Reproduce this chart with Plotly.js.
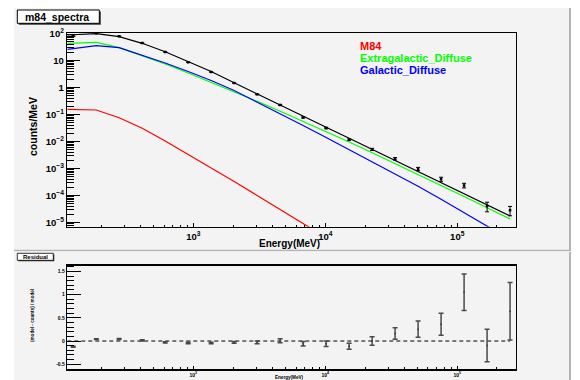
<!DOCTYPE html>
<html><head><meta charset="utf-8">
<script src="https://cdn.plot.ly/plotly-3.0.1.min.js"></script>
<style>html,body{margin:0;padding:0;background:#fff;} #chart{width:580px;height:380px;}</style>
</head><body><div id="chart"></div>
<script>
// ---- data ----
const energy = [123, 184, 274, 410, 612, 914, 1365, 2039, 3046, 4549, 6794, 10150, 15160, 22640, 33810, 50500, 75430, 112700, 168300, 251300];
const counts = [81.6, 104.3, 80.7, 44.8, 20.9, 8.79, 3.81, 1.487, 0.567, 0.2306, 0.0792, 0.0321, 0.01186, 0.00519, 0.002336, 9.81e-4, 4.12e-4, 2.41e-4, 4.12e-5, 2.91e-5];
const countsErr = [0.93, 0.8, 0.77, 0.53, 0.30, 0.147, 0.072, 0.031, 0.0176, 0.00985, 0.00396, 0.00205, 8.7e-4, 4.83e-4, 2.53e-4, 1.38e-4, 7.18e-5, 4.64e-5, 1.59e-5, 1.1e-5];

const modelEnergy = [111, 184, 274, 410, 612, 914, 1365, 2039, 3046, 4549, 6794, 10150, 15160, 22640, 33810, 50500, 75430, 112700, 168300, 251300];
const modelTotal = [89.5, 100, 77.4, 44.1, 21.5, 9.18, 3.98, 1.53, 0.585, 0.229, 0.0843, 0.0341, 0.0134, 0.00519, 0.00201, 7.82e-4, 3.03e-4, 1.175e-4, 4.56e-5, 1.77e-5];
const m84 = [0.1585, 0.1493, 0.0774, 0.03135, 0.01062, 0.003415, 0.00108, 3.356e-4, 1.017e-4, 3.11e-5, 9.26e-6, 2.81e-6];
const extragalactic = [44.1, 48.0, 30.3, 15.58, 7.55, 3.50, 1.599, 0.711, 0.311, 0.1348, 0.0570, 0.02386, 0.00975, 0.00388, 0.001545, 6.10e-4, 2.386e-4, 9.34e-5, 3.594e-5, 1.371e-5];
const galactic = [26.4, 35.9, 30.3, 16.26, 8.22, 3.98, 1.848, 0.788, 0.2954, 0.1108, 0.0398, 0.0143, 0.00514, 0.001848, 6.47e-4, 2.229e-4, 7.36e-5, 2.386e-5, 7.55e-6, 2.386e-6];

const residual = [-0.123, 0.043, 0.043, 0.015, -0.028, -0.043, -0.043, -0.028, -0.03, 0.007, -0.06, -0.06, -0.115, 0.0, 0.162, 0.255, 0.359, 1.05, -0.097, 0.643];
const residualErr = [0.01, 0.008, 0.01, 0.012, 0.014, 0.016, 0.018, 0.02, 0.03, 0.043, 0.047, 0.06, 0.065, 0.093, 0.126, 0.176, 0.237, 0.395, 0.348, 0.62];

const xTickVals = [1e3, 1e4, 1e5];
const xTickText = ['10<sup>3</sup>', '10<sup>4</sup>', '10<sup>5</sup>'];
const yTickVals = [1e-5, 1e-4, 1e-3, 1e-2, 1e-1, 1, 10, 100];
const yTickText = ['10<sup>\u22125</sup>', '10<sup>\u22124</sup>', '10<sup>\u22123</sup>', '10<sup>\u22122</sup>', '10<sup>\u22121</sup>', '1', '10', '10<sup>2</sup>'];
const rTickVals = [-0.5, 0, 0.5, 1, 1.5];
const rTickText = ['-0.5', '0', '0.5', '1', '1.5'];
const seriesNames = ['M84', 'Extragalactic_Diffuse', 'Galactic_Diffuse'];

// ---- layout helpers ----
const FONT = 'Liberation Sans, Arial, Helvetica, sans-serif';
const W = 580, H = 380;
const px = v => v / W, py = v => 1 - v / H;
const xRangeLog = [2.045, 5.443];

function logMinors(d0, d1) {
  const out = [];
  for (let d = d0; d <= d1; d++) for (let m = 2; m <= 9; m++) out.push(m * Math.pow(10, d));
  return out;
}

const traces = [
  {x: modelEnergy, y: m84, mode: 'lines', line: {color: '#ff0000', width: 1.2}, xaxis: 'x', yaxis: 'y'},
  {x: modelEnergy, y: extragalactic, mode: 'lines', line: {color: '#00ff00', width: 1.2}, xaxis: 'x', yaxis: 'y'},
  {x: modelEnergy, y: galactic, mode: 'lines', line: {color: '#0000ff', width: 1.2}, xaxis: 'x', yaxis: 'y'},
  {x: modelEnergy, y: modelTotal, mode: 'lines', line: {color: '#000000', width: 1.2}, xaxis: 'x', yaxis: 'y'},
  {x: energy, y: counts, mode: 'markers', marker: {symbol: 'square', size: 2.5, color: '#000'},
   error_y: {type: 'data', array: countsErr, visible: true, color: '#000', thickness: 1, width: 2}, xaxis: 'x', yaxis: 'y'},
  {x: [Math.pow(10, xRangeLog[0]), energy[energy.length - 1]], y: [0, 0], mode: 'lines',
   line: {color: '#000', width: 1, dash: '4px,3px'}, xaxis: 'x2', yaxis: 'y2'},
  {x: energy, y: residual, mode: 'markers', marker: {size: 2, color: '#444'},
   error_y: {type: 'data', array: residualErr, visible: true, color: '#4a4a4a', thickness: 1.5, width: 2.5}, xaxis: 'x2', yaxis: 'y2'}
];

const axisCommon = {
  showline: true, linecolor: '#000', linewidth: 1.5, mirror: true, showgrid: false, zeroline: false,
  ticks: 'inside', tickcolor: '#000', tickwidth: 1, tickmode: 'array'
};

const layout = {
  width: W, height: H, margin: {l: 0, r: 0, t: 0, b: 0},
  paper_bgcolor: '#ffffff', plot_bgcolor: '#f3f3f3', showlegend: false,
  font: {family: FONT, color: '#000'},
  xaxis: Object.assign({}, axisCommon, {
    type: 'log', range: xRangeLog, domain: [px(67.3), px(515.7)], anchor: 'y',
    tickvals: xTickVals, ticktext: xTickText, ticklen: 4,
    tickfont: {family: FONT, size: 9.5, weight: 'bold'},
    minor: {tickvals: logMinors(2, 5), ticks: 'inside', ticklen: 2, tickcolor: '#000', tickwidth: 1, showgrid: false}
  }),
  yaxis: Object.assign({}, axisCommon, {
    type: 'log', range: [-5.148, 2.026], domain: [py(226.7), py(33)], anchor: 'x',
    tickvals: yTickVals, ticktext: yTickText, ticklen: 13,
    tickfont: {family: FONT, size: 9.5, weight: 'bold'},
    minor: {tickvals: logMinors(-6, 2), ticks: 'inside', ticklen: 7, tickcolor: '#000', tickwidth: 1, showgrid: false}
  }),
  xaxis2: Object.assign({}, axisCommon, {
    type: 'log', range: xRangeLog, domain: [px(67.3), px(515.7)], anchor: 'y2',
    tickvals: xTickVals, ticktext: xTickText, ticklen: 3,
    tickfont: {family: FONT, size: 5, weight: 'bold'},
    minor: {tickvals: logMinors(2, 5), ticks: 'inside', ticklen: 2, tickcolor: '#000', tickwidth: 1, showgrid: false}
  }),
  yaxis2: Object.assign({}, axisCommon, {
    range: [-0.603, 1.623], domain: [py(369), py(265.7)], anchor: 'x2',
    tickvals: rTickVals, ticktext: rTickText, ticklen: 14,
    tickfont: {family: FONT, size: 5, weight: 'bold'},
    minor: {dtick: 0.1, tick0: 0, ticks: 'inside', ticklen: 7, tickcolor: '#000', tickwidth: 1, showgrid: false}
  }),
  shapes: [
    // pads
    {type: 'rect', xref: 'paper', yref: 'paper', x0: px(14), x1: px(569), y0: py(250), y1: py(8), fillcolor: '#f3f3f3', line: {width: 0}, layer: 'below'},
    {type: 'rect', xref: 'paper', yref: 'paper', x0: px(14), x1: px(569), y0: py(380), y1: py(252), fillcolor: '#f3f3f3', line: {width: 0}, layer: 'below'},
    {type: 'line', xref: 'paper', yref: 'paper', x0: px(570), x1: px(570), y0: py(250), y1: py(8), line: {color: '#b4b4b4', width: 2}, layer: 'below'},
    {type: 'line', xref: 'paper', yref: 'paper', x0: px(14), x1: px(571), y0: py(250.5), y1: py(250.5), line: {color: '#b4b4b4', width: 1.5}, layer: 'below'},
    {type: 'line', xref: 'paper', yref: 'paper', x0: px(570), x1: px(570), y0: py(380), y1: py(252), line: {color: '#b4b4b4', width: 2}, layer: 'below'},
    // title boxes (shadow + box)
    {type: 'rect', xref: 'paper', yref: 'paper', x0: px(18.8), x1: px(100.8), y0: py(24.8), y1: py(11.5), fillcolor: '#333', line: {width: 0}},
    {type: 'rect', xref: 'paper', yref: 'paper', x0: px(17.3), x1: px(99.3), y0: py(23.3), y1: py(10), fillcolor: '#ffffff', line: {color: '#000', width: 1}},
    {type: 'rect', xref: 'paper', yref: 'paper', x0: px(18.3), x1: px(54.3), y0: py(261.3), y1: py(254.3), fillcolor: '#333', line: {width: 0}},
    {type: 'rect', xref: 'paper', yref: 'paper', x0: px(17.3), x1: px(53.3), y0: py(260.3), y1: py(253.3), fillcolor: '#ffffff', line: {color: '#000', width: 0.8}}
  ],
  annotations: [
    {text: 'm84_spectra', xref: 'paper', yref: 'paper', x: px(57), y: py(16.6), xanchor: 'center', yanchor: 'middle', showarrow: false, font: {size: 10.5, weight: 'bold'}},
    {text: 'Residual', xref: 'paper', yref: 'paper', x: px(35.5), y: py(256.8), xanchor: 'center', yanchor: 'middle', showarrow: false, font: {size: 6, weight: 'bold'}},
    {text: seriesNames[0], xref: 'paper', yref: 'paper', x: px(358), y: py(45.7), xanchor: 'left', yanchor: 'middle', showarrow: false, font: {size: 11, weight: 'bold', color: '#ff0000'}},
    {text: seriesNames[1], xref: 'paper', yref: 'paper', x: px(358), y: py(58.2), xanchor: 'left', yanchor: 'middle', showarrow: false, font: {size: 11, weight: 'bold', color: '#00ff00'}},
    {text: seriesNames[2], xref: 'paper', yref: 'paper', x: px(358), y: py(70.3), xanchor: 'left', yanchor: 'middle', showarrow: false, font: {size: 11, weight: 'bold', color: '#0000ff'}},
    {text: 'counts/MeV', xref: 'paper', yref: 'paper', x: px(33), y: py(127), xanchor: 'center', yanchor: 'middle', textangle: -90, showarrow: false, font: {size: 10.5, weight: 'bold'}},
    {text: 'Energy(MeV)', xref: 'paper', yref: 'paper', x: px(289), y: py(243), xanchor: 'center', yanchor: 'middle', showarrow: false, font: {size: 10, weight: 'bold'}},
    {text: '(model - counts) / model', xref: 'paper', yref: 'paper', x: px(32), y: py(316), xanchor: 'center', yanchor: 'middle', textangle: -90, showarrow: false, font: {size: 4.6, weight: 'bold'}},
    {text: 'Energy(MeV)', xref: 'paper', yref: 'paper', x: px(289), y: py(377), xanchor: 'center', yanchor: 'middle', showarrow: false, font: {size: 4.6, weight: 'bold'}}
  ]
};

Plotly.newPlot('chart', traces, layout, {staticPlot: true, displayModeBar: false});
</script>
</body></html>
